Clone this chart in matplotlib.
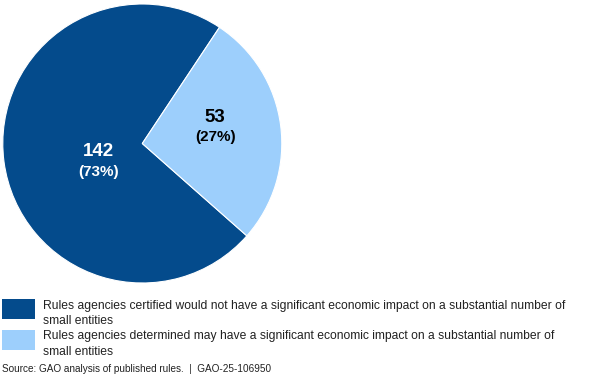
import matplotlib
matplotlib.use("Agg")
import matplotlib.pyplot as plt
from matplotlib.patches import Rectangle

plt.rcParams['font.family'] = ['Liberation Sans', 'DejaVu Sans']

counts = [142, 53]
percents = ["(73%)", "(27%)"]
colors = ["#044B8C", "#9DCFFC"]
legend_labels = [
    "Rules agencies certified would not have a significant economic impact on a substantial number of\nsmall entities",
    "Rules agencies determined may have a significant economic impact on a substantial number of\nsmall entities",
]
source = "Source: GAO analysis of published rules.  |  GAO-25-106950"

W, H = 602, 380
fig = plt.figure(figsize=(W / 100, H / 100), dpi=100)

cx, cy, r = 142.3, 380 - 143.5, 139.5
ax = fig.add_axes([(cx - r) / W, (cy - r) / H, 2 * r / W, 2 * r / H])
wedges, _ = ax.pie(counts, colors=colors, startangle=56.4, counterclock=True,
                   wedgeprops=dict(edgecolor="white", linewidth=0.8), radius=1)
ax.set_xlim(-1, 1)
ax.set_ylim(-1, 1)
ax.set_aspect("equal")
ax.axis("off")

def to_data(px, py):
    return ((px - cx) / r, ((380 - py) - cy) / r)

label_pos = [(98, 152), (215, 117)]
text_colors = ["white", "black"]
for (px, py), n, p, tc in zip(label_pos, counts, percents, text_colors):
    x, y = to_data(px, py)
    ax.text(x, y, str(n), ha="center", va="center", color=tc, fontsize=13.5, fontweight="bold")
    x2, y2 = to_data(px + 1, py + 20)
    ax.text(x2, y2, p, ha="center", va="center", color=tc, fontsize=11, fontweight="bold")

sw_y = [299, 330]
for yt, c, lab in zip(sw_y, colors, legend_labels):
    fig.patches.append(Rectangle((2 / W, 1 - (yt + 20) / H), 33 / W, 20 / H,
                                 transform=fig.transFigure, facecolor=c, edgecolor="none"))
    fig.text(43 / W, 1 - (yt + 0.5) / H, lab, ha="left", va="top", fontsize=8.7,
             linespacing=1.4, color="#222222")

fig.text(2 / W, 1 - 369 / H, source, ha="left", va="center", fontsize=7.2, color="#222222")

fig.savefig("out.png", dpi=100, facecolor="white")
